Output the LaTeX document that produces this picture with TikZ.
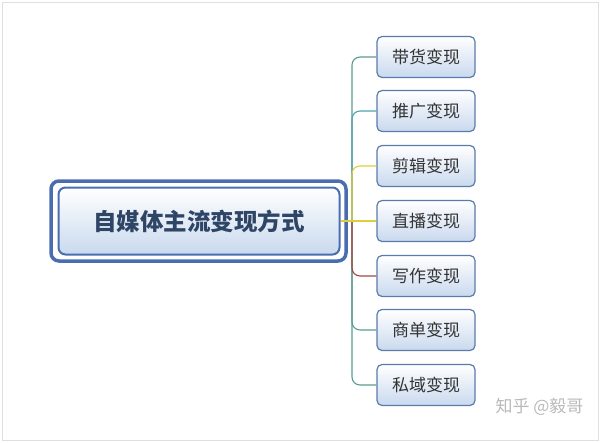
\documentclass[tikz,border=0pt]{standalone}
\usepackage{fontspec}
\usepackage{xcolor}
\usepackage{tikz}
\newfontfamily\cjk{Noto Sans CJK SC}
\definecolor{boxline}{HTML}{5B7BAA}
\definecolor{boxfill}{HTML}{C9D9EE}
\definecolor{mainline}{HTML}{4A6DB0}
\definecolor{maintext}{HTML}{2E4566}
\definecolor{lteal}{HTML}{5A9C92}
\definecolor{lcyan}{HTML}{4FA3AF}
\definecolor{lyellow}{HTML}{E0CF3A}
\definecolor{lred}{HTML}{A8453F}

\begin{document}
\begin{tikzpicture}[x=1pt, y=-1pt, font=\cjk,
    leaf/.style={rectangle, rounded corners=5pt, draw=boxline, line width=1.2pt, top color=white, bottom color=boxfill, minimum width=98pt, minimum height=41pt, font=\cjk\fontsize{17}{20}\selectfont, text=black!80},
    hub/.style={rectangle, rounded corners=7pt, draw=mainline, line width=2pt, top color=white, bottom color=boxfill, minimum width=281pt, minimum height=67pt, font=\cjk\bfseries\fontsize{23.5}{28}\selectfont, text=maintext},
    link/.style={line width=1.1pt, rounded corners=8pt}]

    \useasboundingbox (0,0) rectangle (600,442);
    \draw[gray!25, line width=1pt] (2,2) rectangle (598,440);

    % centre
    \draw[mainline, line width=3.5pt, rounded corners=8pt] (51,181) rectangle (346,261);
    \node[hub] (main) at (199,221) {自媒体主流变现方式};

    % branches
    \node[leaf] (b1) at (426,57) {带货变现};
    \node[leaf] (b2) at (426,111) {推广变现};
    \node[leaf] (b3) at (426,166) {剪辑变现};
    \node[leaf] (b4) at (426,221) {直播变现};
    \node[leaf] (b5) at (426,276) {写作变现};
    \node[leaf] (b6) at (426,330) {商单变现};
    \node[leaf] (b7) at (426,385) {私域变现};

    \coordinate (trunk) at (352,221);

    % connectors
    \draw[link, lteal] (trunk) |- (b1.west);
    \draw[link, lteal] (trunk) |- (b7.west);
    \draw[link, lcyan] (trunk) |- (b2.west);
    \draw[link, lteal] (trunk) |- (b6.west);
    \draw[link, lyellow] (trunk) |- (b3.west);
    \draw[link, lred] (trunk) |- (b5.west);
    \draw[link, lyellow] (main.east) -- (b4.west);

    % watermark
    \node[text=gray!55, font=\cjk\fontsize{17}{20}\selectfont, anchor=east] (mark) at (587,407) {知乎 @毅哥};
\end{tikzpicture}
\end{document}
